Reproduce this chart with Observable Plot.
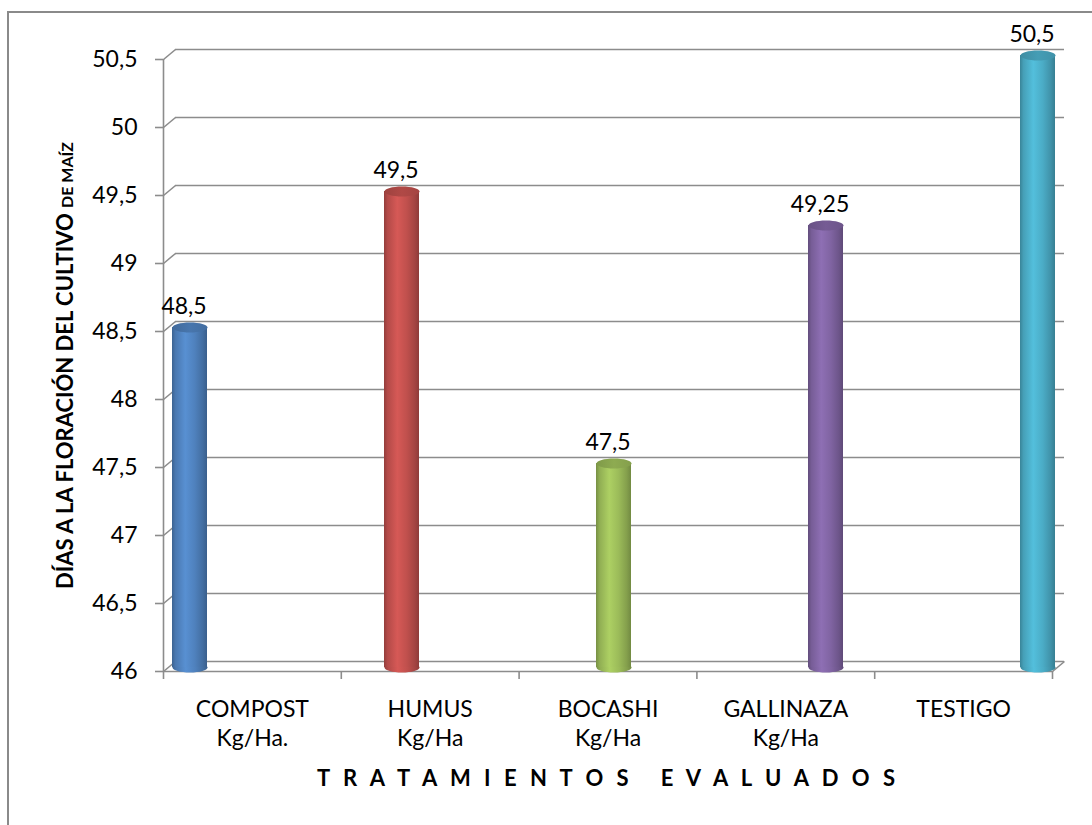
<!DOCTYPE html>
<html>
<head>
<meta charset="utf-8">
<script src="https://cdn.jsdelivr.net/npm/d3@7"></script>
<script src="https://cdn.jsdelivr.net/npm/@observablehq/plot@0.6"></script>
<style>
  html, body { margin: 0; padding: 0; background: #fff; overflow: hidden; }
  #wrap { position: relative; width: 1092px; height: 825px; overflow: hidden; }
  #border { position: absolute; left: 7px; top: 11px; width: 1200px; height: 900px; border: 2px solid #8a8a8a; box-sizing: border-box; }
  #wrap svg { position: absolute; left: 0; top: 0; }
</style>
</head>
<body>
<div id="wrap"><div id="border"></div></div>
<script>
// ---- data ----
const categories = ["COMPOST", "HUMUS", "BOCASHI", "GALLINAZA", "TESTIGO"];
const units = ["Kg/Ha.", "Kg/Ha", "Kg/Ha", "Kg/Ha", ""];
const values = [48.5, 49.5, 47.5, 49.25, 50.5];
const yTicks = [46, 46.5, 47, 47.5, 48, 48.5, 49, 49.5, 50, 50.5];
const yTitleMain = "DÍAS A LA FLORACIÓN DEL CULTIVO";
const yTitleSmall = "DE MAÍZ";
const xTitle = "T R A T A M I E N T O S   E V A L U A D O S";

// ---- styles ----
const palette = ["#4F81BD", "#C0504D", "#9BBB59", "#8064A2", "#4BACC6"];
const gridColor = "#8c8c8c";
const font = "Lato, 'Open Sans', sans-serif";
const W = 1092, H = 825;
const M = {top: 59, bottom: 154, left: 163, right: 40};
const yDomain = [yTicks[0], yTicks[yTicks.length - 1]];
const comma = d => String(d).replace(".", ",");

const rows = categories.map((c, i) => ({cat: c, unit: units[i], value: values[i], i}));

// custom symbols
const diag = { draw(ctx) { ctx.moveTo(0, 0); ctx.lineTo(12, -10); } };
const K = 0.5523;
const ellipse = (rx, ry) => ({
  draw(ctx) {
    ctx.moveTo(-rx, 0);
    ctx.bezierCurveTo(-rx, -ry * K, -rx * K, -ry, 0, -ry);
    ctx.bezierCurveTo(rx * K, -ry, rx, -ry * K, rx, 0);
    ctx.bezierCurveTo(rx, ry * K, rx * K, ry, 0, ry);
    ctx.bezierCurveTo(-rx * K, ry, -rx, ry * K, -rx, 0);
    ctx.closePath();
  }
});

// ---- background: walls, grid, axes, texts ----
const bg = Plot.plot({
  width: W, height: H,
  marginTop: M.top, marginBottom: M.bottom, marginLeft: M.left, marginRight: M.right,
  style: {fontFamily: font, background: "transparent", overflow: "visible"},
  x: {type: "linear", domain: [0, categories.length], axis: null},
  y: {domain: yDomain, axis: null},
  marks: [
    Plot.ruleY(yTicks, {dx: 12, dy: -10, stroke: gridColor, strokeWidth: 1.6}),
    Plot.dot(yTicks, {y: d => d, frameAnchor: "left", symbol: diag, fill: "none", stroke: gridColor, strokeWidth: 1.6}),
    Plot.dot([yDomain[0]], {y: d => d, frameAnchor: "right", symbol: diag, fill: "none", stroke: gridColor, strokeWidth: 1.6}),
    Plot.ruleY([yDomain[0]], {stroke: gridColor, strokeWidth: 1.6}),
    Plot.ruleX([0], {y1: yDomain[0], y2: yDomain[1], stroke: gridColor, strokeWidth: 1.6}),
    Plot.axisY(yTicks, {tickSize: 8, tickPadding: 18, fontSize: 23, tickFormat: comma, stroke: gridColor, strokeWidth: 1.6, fill: "#000", label: null}),
    Plot.axisX(d3.range(categories.length + 1), {tickSize: 8, tickFormat: () => "", stroke: gridColor, strokeWidth: 1.6, label: null}),
    Plot.text(rows, {x: d => d.i + 0.5, frameAnchor: "bottom", text: d => d.unit ? d.cat + "\n" + d.unit : d.cat,
      lineAnchor: "top", dy: 25, fontSize: 23, lineHeight: 1.25, fill: "#000"}),
    Plot.text([xTitle], {frameAnchor: "bottom", dy: 114, fontSize: 22, fontWeight: "bold", fill: "#000"}),
    Plot.text([yTitleMain], {frameAnchor: "left", textAnchor: "middle", dx: -98, dy: 0, rotate: -90, fontSize: 22, fontWeight: "bold", fill: "#000"})
  ]
});

// ---- bars (3-D cylinders) ----
const bars = Plot.plot({
  width: W, height: H,
  marginTop: M.top, marginBottom: M.bottom, marginLeft: M.left, marginRight: M.right,
  style: {fontFamily: font, background: "transparent", overflow: "visible"},
  x: {type: "band", domain: categories, range: [83, 1144], paddingInner: 0.835, paddingOuter: 0.4175, axis: null},
  y: {domain: yDomain, axis: null},
  color: {type: "identity"},
  marks: [
    Plot.dot(rows, {x: "cat", y: () => yDomain[0], symbol: ellipse(17.5, 5), fill: d => `url(#body${d.i})`, stroke: "none", dy: -4}),
    Plot.barY(rows, {x: "cat", y1: () => yDomain[0], y2: "value", fill: d => `url(#body${d.i})`, dy: -4}),
    Plot.dot(rows, {x: "cat", y: "value", symbol: ellipse(17.5, 5), fill: d => `url(#top${d.i})`, stroke: "none", dy: -4}),
    Plot.text(rows, {x: "cat", y: "value", text: d => comma(d.value), dy: -25, dx: -6, fontSize: 23, fill: "#000"})
  ]
});

// gradients
const svgB = d3.select(bars);
const defs = svgB.insert("defs", ":first-child");
palette.forEach((c, i) => {
  const base = d3.color(c);
  const g = defs.append("linearGradient").attr("id", `body${i}`).attr("x1", 0).attr("x2", 1).attr("y1", 0).attr("y2", 0);
  [[0, base.darker(0.75)], [0.1, base.darker(0.2)], [0.38, base.brighter(0.3)], [0.65, base], [0.88, base.darker(0.45)], [1, base.darker(0.85)]]
    .forEach(([o, col]) => g.append("stop").attr("offset", o).attr("stop-color", col.formatHex()));
  const t = defs.append("linearGradient").attr("id", `top${i}`).attr("x1", 0).attr("x2", 1).attr("y1", 0).attr("y2", 0);
  [[0, base.darker(0.55)], [0.5, base.darker(0.25)], [1, base.darker(0.45)]]
    .forEach(([o, col]) => t.append("stop").attr("offset", o).attr("stop-color", col.formatHex()));
});

// y title: smaller "DE MAÍZ"
d3.select(bg).selectAll("text").filter(function() { return this.textContent === yTitleMain; })
  .each(function() {
    const t = d3.select(this);
    t.text(null);
    t.append("tspan").text(yTitleMain + " ");
    t.append("tspan").attr("font-size", 16).text(yTitleSmall);
  });
// x title letter spacing
d3.select(bg).selectAll("text").filter(function() { return this.textContent === xTitle; })
  .attr("letter-spacing", "4px").style("white-space", "pre");

const wrap = document.getElementById("wrap");
wrap.appendChild(bg);
wrap.appendChild(bars);
</script>
</body>
</html>
